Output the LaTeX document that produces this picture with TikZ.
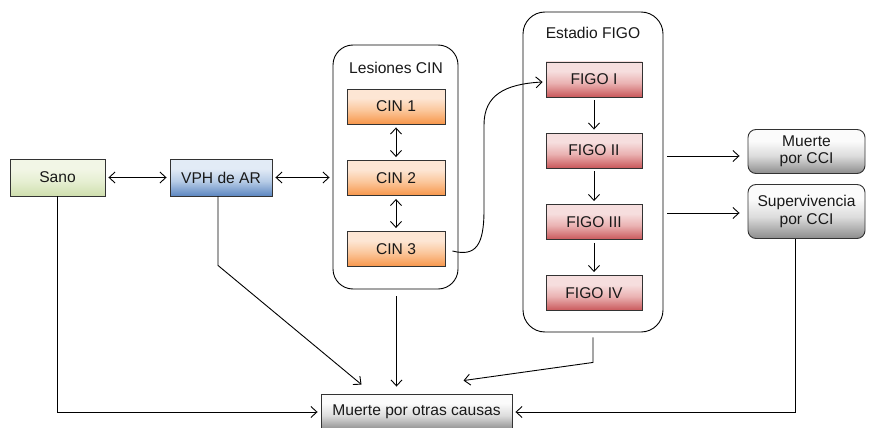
\documentclass[tikz,border=0pt]{standalone}
\usepackage{fontspec}
\setmainfont{Liberation Sans}
\usetikzlibrary{arrows.meta,calc}

% vertical fills: light upper part, darker towards the bottom edge
\definecolor{grntop}{HTML}{F2F6E6}
\definecolor{grnmid}{HTML}{E6EFD2}
\definecolor{grnbot}{HTML}{CFDFAE}
\pgfdeclareverticalshading{greenfill}{100bp}{color(0bp)=(grnbot); color(25bp)=(grnbot); color(45bp)=(grnmid); color(62bp)=(grntop); color(100bp)=(grntop)}
\definecolor{bluetop}{HTML}{E2EBF6}
\definecolor{bluemid}{HTML}{B6CBE6}
\definecolor{bluebot}{HTML}{5C86C0}
\pgfdeclareverticalshading{bluefill}{100bp}{color(0bp)=(bluebot); color(25bp)=(bluebot); color(45bp)=(bluemid); color(62bp)=(bluetop); color(100bp)=(bluetop)}
\definecolor{orgtop}{HTML}{FDE6D4}
\definecolor{orgmid}{HTML}{FBC79C}
\definecolor{orgbot}{HTML}{F7964A}
\pgfdeclareverticalshading{orangefill}{100bp}{color(0bp)=(orgbot); color(25bp)=(orgbot); color(45bp)=(orgmid); color(62bp)=(orgtop); color(100bp)=(orgtop)}
\definecolor{redtop}{HTML}{F6DEDE}
\definecolor{redmid}{HTML}{EAB2B2}
\definecolor{redbot}{HTML}{C9575A}
\pgfdeclareverticalshading{redfill}{100bp}{color(0bp)=(redbot); color(25bp)=(redbot); color(45bp)=(redmid); color(62bp)=(redtop); color(100bp)=(redtop)}
\definecolor{graytop}{HTML}{FBFBFB}
\definecolor{graymid}{HTML}{DCDCDC}
\definecolor{graybot}{HTML}{8C8C8C}
\pgfdeclareverticalshading{grayfill}{100bp}{color(0bp)=(graybot); color(25bp)=(graybot); color(45bp)=(graymid); color(62bp)=(graytop); color(100bp)=(graytop)}

\tikzset{
  lbl/.style={font=\fontsize{15.6}{17.5}\selectfont, text=black!90},
  box/.style={lbl, draw=black!80, line width=0.9pt, inner sep=0pt, align=center},
  sanobox/.style={box, shading=greenfill},
  vphbox/.style={box, shading=bluefill},
  cinbox/.style={box, shading=orangefill, minimum width=98pt, minimum height=35pt},
  figobox/.style={box, shading=redfill, minimum width=96pt, minimum height=35pt},
  endbox/.style={box, shading=grayfill},
  group/.style={draw=black, line width=0.9pt, rounded corners=20pt, fill=white},
  conn/.style={draw=black, line width=0.9pt},
  tip/.style={-{Straight Barb[length=6pt,width=11pt,line width=0.9pt]}},
  both/.style={{Straight Barb[length=6pt,width=11pt,line width=0.9pt]}-{Straight Barb[length=6pt,width=11pt,line width=0.9pt]}},
}

\begin{document}
\begin{tikzpicture}[x=1pt,y=-1pt]
\useasboundingbox[fill=white] (0,0) rectangle (870,428);

% group containers
\node[group, minimum width=125pt, minimum height=244pt] (les) at (395.5,167) {};
\node[lbl] (lestitle) at (396,68) {Lesiones CIN};
\node[group, rounded corners=22pt, minimum width=140pt, minimum height=320pt] (figo) at (593,172) {};
\node[lbl] (figotitle) at (593,33) {Estadio FIGO};

% states
\node[sanobox, minimum width=95pt, minimum height=37pt] (sano) at (57.5,177.5) {Sano};
\node[vphbox, minimum width=102pt, minimum height=37pt] (vph) at (221,177.5) {VPH de AR};

\node[cinbox] (c1) at (396,106.5) {CIN 1};
\node[cinbox] (c2) at (396,178) {CIN 2};
\node[cinbox] (c3) at (396,249) {CIN 3};

\node[figobox] (f1) at (594,79.5) {FIGO I};
\node[figobox] (f2) at (594,150.5) {FIGO II};
\node[figobox] (f3) at (594,222) {FIGO III};
\node[figobox] (f4) at (594,293) {FIGO IV};

\node[endbox, rounded corners=8pt, minimum width=117pt, minimum height=44pt] (mcci) at (806.5,151.5) {Muerte\\por CCI};
\node[endbox, rounded corners=8pt, minimum width=117pt, minimum height=54pt] (scci) at (806.5,211.5) {Supervivencia\\por CCI};
\node[endbox, minimum width=191pt, minimum height=36pt] (otras) at (416.5,412) {Muerte por otras causas};

% two-way transitions
\draw[conn, both, shorten <=3pt, shorten >=3pt] (sano.east) -- (vph.west);
\draw[conn, both, shorten <=3pt, shorten >=3pt] (vph.east) -- (vph.east -| les.west);
\draw[conn, both, shorten <=3pt, shorten >=3pt] (c1.south) -- (c2.north);
\draw[conn, both, shorten <=3pt, shorten >=3pt] (c2.south) -- (c3.north);

% FIGO progression
\draw[conn, tip, shorten <=3pt, shorten >=3pt] (f1.south) -- (f2.north);
\draw[conn, tip, shorten <=3pt, shorten >=3pt] (f2.south) -- (f3.north);
\draw[conn, tip, shorten <=3pt, shorten >=3pt] (f3.south) -- (f4.north);

% CIN 3 into FIGO I
\coordinate (cstart) at ($(c3.east)+(7,2)$);
\coordinate (fend) at ($(f1.west)+(-3,2.5)$);
\draw[conn, tip] (cstart) .. controls (476,257) and (484,245) .. (484,210)
  -- (484,125) .. controls (484,95) and (505,84) .. (fend);

% outcomes of the FIGO stages
\coordinate (m1) at ($(f2.east)+(0,5.5)$);
\coordinate (m2) at ($(f3.east)+(0,-9)$);
\draw[conn, tip, shorten <=4pt, shorten >=8pt] (m1 -| figo.east) -- (m1 -| mcci.west);
\draw[conn, tip, shorten <=4pt, shorten >=8pt] (m2 -| figo.east) -- (m2 -| scci.west);

% deaths from other causes
\draw[conn, tip, shorten >=3pt] (sano.south) |- (otras.west);
\coordinate (sdrop) at ($(scci.south)+(-11.5,0)$);
\draw[conn, tip, shorten >=3pt] (sdrop) |- (otras.east);
\coordinate (vdrop) at ($(vph.south)+(-3,0)$);
\coordinate (vbend) at ($(vdrop)+(0,69)$);
\coordinate (vend) at ($(otras.north)+(-55,-9)$);
\draw[conn, tip] (vdrop) -- (vbend) -- (vend);
\coordinate (lend) at ($(otras.north)+(-20,-7)$);
\draw[conn, tip, shorten <=7pt] (les.south -| lend) -- (lend);
\coordinate (fdrop) at ($(figo.south)+(0,0)$);
\coordinate (fbend) at ($(fdrop)+(0,30)$);
\coordinate (fstop) at ($(otras.north)+(47,-13)$);
\draw[conn, tip, shorten <=5pt] (fdrop) -- (fbend) -- (fstop);
\end{tikzpicture}
\end{document}
